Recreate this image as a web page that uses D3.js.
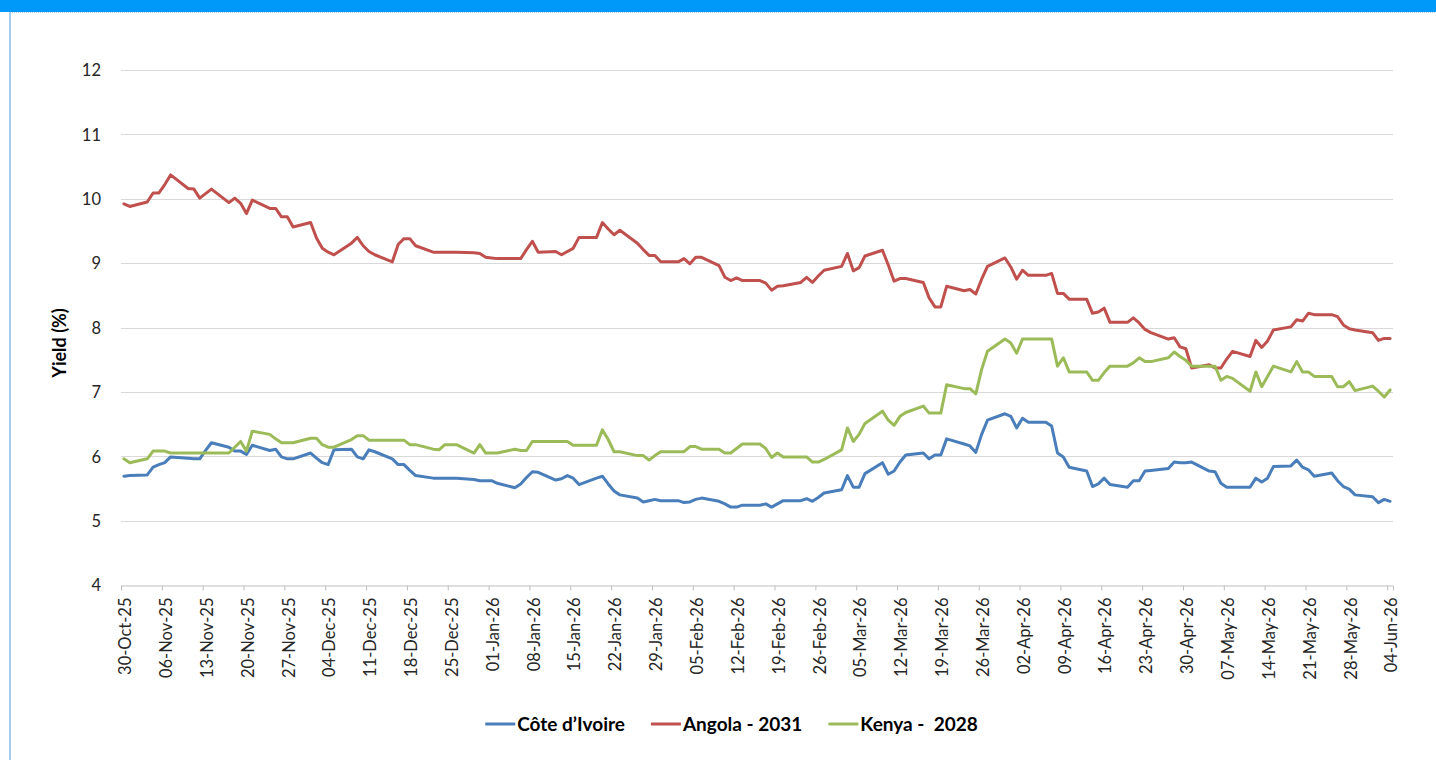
<!DOCTYPE html>
<html>
<head>
<meta charset="utf-8">
<script src="https://d3js.org/d3.v7.min.js"></script>
<style>
  body { margin: 0; background: #fff; }
  svg { display: block; font-family: Lato, 'Open Sans', sans-serif; }
  .tick text { fill: #262626; }
  .legend-text { white-space: pre; }
</style>
</head>
<body>
<div id="chart"></div>
<script>
// Business days shown on the chart
const dates = [
  '2025-10-30', '2025-10-31',
  '2025-11-03', '2025-11-04', '2025-11-05', '2025-11-06', '2025-11-07',
  '2025-11-10', '2025-11-11', '2025-11-12', '2025-11-13', '2025-11-14',
  '2025-11-17', '2025-11-18', '2025-11-19', '2025-11-20', '2025-11-21',
  '2025-11-24', '2025-11-25', '2025-11-26', '2025-11-27', '2025-11-28',
  '2025-12-01', '2025-12-02', '2025-12-03', '2025-12-04', '2025-12-05',
  '2025-12-08', '2025-12-09', '2025-12-10', '2025-12-11', '2025-12-12',
  '2025-12-15', '2025-12-16', '2025-12-17', '2025-12-18', '2025-12-19',
  '2025-12-22', '2025-12-23', '2025-12-24', '2025-12-25', '2025-12-26',
  '2025-12-29', '2025-12-30', '2025-12-31', '2026-01-01', '2026-01-02',
  '2026-01-05', '2026-01-06', '2026-01-07', '2026-01-08', '2026-01-09',
  '2026-01-12', '2026-01-13', '2026-01-14', '2026-01-15', '2026-01-16',
  '2026-01-19', '2026-01-20', '2026-01-21', '2026-01-22', '2026-01-23',
  '2026-01-26', '2026-01-27', '2026-01-28', '2026-01-29', '2026-01-30',
  '2026-02-02', '2026-02-03', '2026-02-04', '2026-02-05', '2026-02-06',
  '2026-02-09', '2026-02-10', '2026-02-11', '2026-02-12', '2026-02-13',
  '2026-02-16', '2026-02-17', '2026-02-18', '2026-02-19', '2026-02-20',
  '2026-02-23', '2026-02-24', '2026-02-25', '2026-02-26', '2026-02-27',
  '2026-03-02', '2026-03-03', '2026-03-04', '2026-03-05', '2026-03-06',
  '2026-03-09', '2026-03-10', '2026-03-11', '2026-03-12', '2026-03-13',
  '2026-03-16', '2026-03-17', '2026-03-18', '2026-03-19', '2026-03-20',
  '2026-03-23', '2026-03-24', '2026-03-25', '2026-03-26', '2026-03-27',
  '2026-03-30', '2026-03-31', '2026-04-01', '2026-04-02', '2026-04-03',
  '2026-04-06', '2026-04-07', '2026-04-08', '2026-04-09', '2026-04-10',
  '2026-04-13', '2026-04-14', '2026-04-15', '2026-04-16', '2026-04-17',
  '2026-04-20', '2026-04-21', '2026-04-22', '2026-04-23', '2026-04-24',
  '2026-04-27', '2026-04-28', '2026-04-29', '2026-04-30', '2026-05-01',
  '2026-05-04', '2026-05-05', '2026-05-06', '2026-05-07', '2026-05-08',
  '2026-05-11', '2026-05-12', '2026-05-13', '2026-05-14', '2026-05-15',
  '2026-05-18', '2026-05-19', '2026-05-20', '2026-05-21', '2026-05-22',
  '2026-05-25', '2026-05-26', '2026-05-27', '2026-05-28', '2026-05-29',
  '2026-06-01', '2026-06-02', '2026-06-03', '2026-06-04'
];

// Yields (%), one value per date above
const coteDIvoire = [
  5.69, 5.70,
  5.71, 5.83, 5.87, 5.90, 5.99,
  5.97, 5.96, 5.96, 6.09, 6.21,
  6.14, 6.08, 6.08, 6.03, 6.17,
  6.09, 6.11, 5.99, 5.96, 5.96,
  6.05, 5.97, 5.90, 5.87, 6.10,
  6.11, 5.99, 5.96, 6.10, 6.07,
  5.96, 5.87, 5.87, 5.78, 5.70,
  5.66, 5.66, 5.66, 5.66, 5.66,
  5.64, 5.62, 5.62, 5.62, 5.58,
  5.51, 5.57, 5.67, 5.76, 5.75,
  5.63, 5.65, 5.70, 5.66, 5.56,
  5.66, 5.69, 5.57, 5.46, 5.40,
  5.35, 5.29, 5.31, 5.33, 5.31,
  5.31, 5.28, 5.29, 5.33, 5.35,
  5.30, 5.26, 5.21, 5.21, 5.24,
  5.24, 5.26, 5.21, 5.26, 5.31,
  5.31, 5.34, 5.30, 5.36, 5.43,
  5.48, 5.70, 5.52, 5.52, 5.73,
  5.90, 5.72, 5.77, 5.91, 6.02,
  6.05, 5.96, 6.02, 6.02, 6.27,
  6.19, 6.16, 6.06, 6.34, 6.56,
  6.66, 6.62, 6.44, 6.59, 6.53,
  6.53, 6.47, 6.05, 5.99, 5.83,
  5.77, 5.53, 5.57, 5.66, 5.56,
  5.52, 5.62, 5.62, 5.77, 5.78,
  5.81, 5.91, 5.90, 5.90, 5.91,
  5.77, 5.76, 5.58, 5.52, 5.52,
  5.52, 5.66, 5.60, 5.66, 5.84,
  5.85, 5.94, 5.83, 5.79, 5.69,
  5.74, 5.62, 5.53, 5.49, 5.40,
  5.37, 5.28, 5.33, 5.30
];

const angola2031 = [
  9.92, 9.88,
  9.95, 10.09, 10.09, 10.22, 10.37,
  10.16, 10.15, 10.01, 10.08, 10.15,
  9.94, 10.01, 9.93, 9.77, 9.98,
  9.85, 9.85, 9.72, 9.72, 9.56,
  9.63, 9.39, 9.23, 9.17, 9.13,
  9.31, 9.40, 9.27, 9.18, 9.13,
  9.02, 9.29, 9.38, 9.38, 9.27,
  9.17, 9.17, 9.17, 9.17, 9.17,
  9.16, 9.15, 9.09, 9.08, 9.07,
  9.07, 9.07, 9.21, 9.34, 9.17,
  9.18, 9.13, 9.18, 9.23, 9.40,
  9.40, 9.63, 9.53, 9.44, 9.51,
  9.31, 9.21, 9.12, 9.12, 9.02,
  9.02, 9.07, 8.99, 9.09, 9.09,
  8.96, 8.78, 8.73, 8.77, 8.73,
  8.73, 8.69, 8.58, 8.64, 8.65,
  8.70, 8.78, 8.70, 8.80, 8.89,
  8.95, 9.15, 8.88, 8.93, 9.11,
  9.20, 8.97, 8.72, 8.76, 8.76,
  8.70, 8.46, 8.32, 8.32, 8.64,
  8.57, 8.59, 8.52, 8.75, 8.95,
  9.08, 8.94, 8.75, 8.89, 8.81,
  8.81, 8.84, 8.53, 8.53, 8.44,
  8.44, 8.22, 8.24, 8.30, 8.08,
  8.08, 8.15, 8.07, 7.97, 7.92,
  7.82, 7.84, 7.70, 7.67, 7.37,
  7.42, 7.37, 7.37, 7.51, 7.63,
  7.55, 7.80, 7.69, 7.79, 7.96,
  8.01, 8.12, 8.10, 8.22, 8.20,
  8.20, 8.17, 8.04, 7.98, 7.96,
  7.92, 7.80, 7.83, 7.83
];

const kenya2028 = [
  5.96, 5.90,
  5.96, 6.08, 6.08, 6.08, 6.05,
  6.05, 6.05, 6.05, 6.05, 6.05,
  6.05, 6.14, 6.23, 6.08, 6.39,
  6.34, 6.27, 6.21, 6.21, 6.21,
  6.28, 6.28, 6.18, 6.14, 6.14,
  6.26, 6.32, 6.32, 6.25, 6.25,
  6.25, 6.25, 6.25, 6.18, 6.18,
  6.11, 6.10, 6.18, 6.18, 6.18,
  6.05, 6.18, 6.05, 6.05, 6.05,
  6.11, 6.09, 6.09, 6.23, 6.23,
  6.23, 6.23, 6.23, 6.17, 6.17,
  6.17, 6.41, 6.26, 6.07, 6.07,
  6.01, 6.01, 5.94, 6.01, 6.07,
  6.07, 6.07, 6.15, 6.15, 6.11,
  6.11, 6.05, 6.05, 6.12, 6.19,
  6.19, 6.12, 5.98, 6.05, 5.99,
  5.99, 5.99, 5.91, 5.91, 5.95,
  6.10, 6.44, 6.23, 6.34, 6.51,
  6.70, 6.56, 6.48, 6.62, 6.68,
  6.78, 6.67, 6.67, 6.67, 7.11,
  7.05, 7.05, 6.97, 7.35, 7.63,
  7.82, 7.76, 7.60, 7.82, 7.82,
  7.82, 7.82, 7.40, 7.53, 7.31,
  7.31, 7.18, 7.18, 7.30, 7.40,
  7.40, 7.45, 7.53, 7.47, 7.47,
  7.53, 7.62, 7.55, 7.49, 7.40,
  7.40, 7.40, 7.18, 7.24, 7.21,
  7.01, 7.31, 7.08, 7.24, 7.40,
  7.31, 7.47, 7.31, 7.31, 7.24,
  7.24, 7.08, 7.08, 7.16, 7.02,
  7.09, 7.01, 6.92, 7.03
];

const seriesNames = ['Côte d\u2019Ivoire', 'Angola - 2031', 'Kenya -  2028'];
const seriesColors = ['#4a7ebb', '#c0504d', '#9bbb59'];
const yTicks = [4, 5, 6, 7, 8, 9, 10, 11, 12];
const xStart = '2025-10-30';
const xEnd = '2026-06-05';

// Canvas and plot area
const W = 1436, H = 760;
const PLOT = { LEFT: 121, RIGHT: 1393, TOP: 70, BOTTOM: 585 };

const svg = d3.select('#chart')
  .append('svg')
  .attr('width', W)
  .attr('height', H);

svg.append('rect').attr('width', W).attr('height', H).attr('fill', '#fff');

// Frame: blue bar on top, light border on the left
svg.append('rect')
  .attr('x', 0).attr('y', 0)
  .attr('width', W).attr('height', 12)
  .attr('fill', '#0099fa');
svg.append('line')
  .attr('x1', 10).attr('x2', W).attr('y1', 12.5).attr('y2', 12.5)
  .attr('stroke', '#9fd0f5').attr('stroke-dasharray', '1,1');
svg.append('line')
  .attr('x1', 10).attr('x2', 10).attr('y1', 12).attr('y2', H)
  .attr('stroke', '#a9cdee').attr('stroke-width', 2);

const parse = d3.utcParse('%Y-%m-%d');

// Date axis: each day is a band, points sit in the middle of it
const x = d3.scaleUtc()
  .domain([parse(xStart), parse(xEnd)])
  .range([PLOT.LEFT, PLOT.RIGHT]);

const y = d3.scaleLinear()
  .domain([d3.min(yTicks), d3.max(yTicks)])
  .range([PLOT.BOTTOM, PLOT.TOP]);

const halfDay = (x(parse('2025-10-31')) - x(parse('2025-10-30'))) / 2;

// Gridlines
svg.append('g')
  .selectAll('line')
  .data(yTicks.slice(1))
  .enter()
  .append('line')
  .attr('x1', PLOT.LEFT)
  .attr('x2', PLOT.RIGHT)
  .attr('y1', d => Math.round(y(d)) + 0.5)
  .attr('y2', d => Math.round(y(d)) + 0.5)
  .attr('stroke', '#d9d9d9')
  .attr('stroke-width', 1);

// Y axis labels (no axis line)
const yAxis = svg.append('g')
  .attr('transform', `translate(${PLOT.LEFT}, 0.5)`)
  .call(d3.axisLeft(y).tickValues(yTicks).tickSize(0).tickPadding(20).tickFormat(d3.format('d')));
yAxis.select('.domain').remove();
yAxis.selectAll('text')
  .style('font-size', '16.5px')
  .style('font-family', 'Lato, sans-serif');

// X axis with weekly ticks (Thursdays)
const xTicks = x.ticks(d3.utcThursday.every(1)).filter(d => d < parse(xEnd));
const xAxis = svg.append('g')
  .attr('transform', `translate(0, ${Math.round(PLOT.BOTTOM) + 0.5})`)
  .call(d3.axisBottom(x).tickValues(xTicks).tickSizeOuter(0).tickSize(5).tickFormat(d3.utcFormat('%d-%b-%y')));
xAxis.select('.domain').attr('stroke', '#bfbfbf');
xAxis.selectAll('.tick line').attr('stroke', '#bfbfbf');
xAxis.selectAll('text')
  .attr('transform', `translate(${halfDay + 1}, 0) rotate(-90)`)
  .attr('x', -12)
  .attr('y', 0)
  .attr('dy', '0.35em')
  .attr('text-anchor', 'end')
  .style('font-size', '16.5px')
  .style('font-family', 'Lato, sans-serif');

// Y axis title
svg.append('text')
  .attr('transform', 'translate(66, 343) rotate(-90)')
  .attr('text-anchor', 'middle')
  .style('font-size', '18px')
  .style('font-weight', 'bold')
  .style('fill', '#000')
  .text('Yield (%)');

// Lines
const seriesValues = [coteDIvoire, angola2031, kenya2028];
const line = d3.line()
  .x(d => x(d.date) + halfDay)
  .y(d => y(d.value));

svg.append('clipPath').attr('id', 'plot-clip')
  .append('rect')
  .attr('x', PLOT.LEFT).attr('y', 0)
  .attr('width', PLOT.RIGHT - PLOT.LEFT + 3).attr('height', H);

seriesValues.forEach(function(values, i) {
  const rows = dates.map((d, j) => ({ date: parse(d), value: values[j] }));
  svg.append('path')
    .datum(rows)
    .attr('fill', 'none')
    .attr('stroke', seriesColors[i])
    .attr('stroke-width', 3)
    .attr('stroke-linejoin', 'round')
    .attr('stroke-linecap', 'round')
    .attr('clip-path', 'url(#plot-clip)')
    .attr('d', line);
});

// Legend, centred under the plot
const legend = svg.append('g').attr('transform', 'translate(0, 724)');
const items = legend.selectAll('g')
  .data(seriesNames)
  .enter()
  .append('g');
items.append('line')
  .attr('x1', 0).attr('x2', 30)
  .attr('y1', 0).attr('y2', 0)
  .attr('stroke', (d, i) => seriesColors[i])
  .attr('stroke-width', 3);
items.append('text')
  .attr('class', 'legend-text')
  .attr('x', 32)
  .attr('y', 7)
  .style('font-size', '19px')
  .style('font-weight', 'bold')
  .style('fill', '#000')
  .text(d => d);

const gap = 26;
const widths = [];
items.each(function() { widths.push(32 + this.querySelector('text').getComputedTextLength()); });
const total = d3.sum(widths) + gap * (widths.length - 1);
let cursor = 731.5 - total / 2;
items.attr('transform', function(d, i) {
  const t = `translate(${cursor}, 0)`;
  cursor += widths[i] + gap;
  return t;
});
</script>
</body>
</html>
